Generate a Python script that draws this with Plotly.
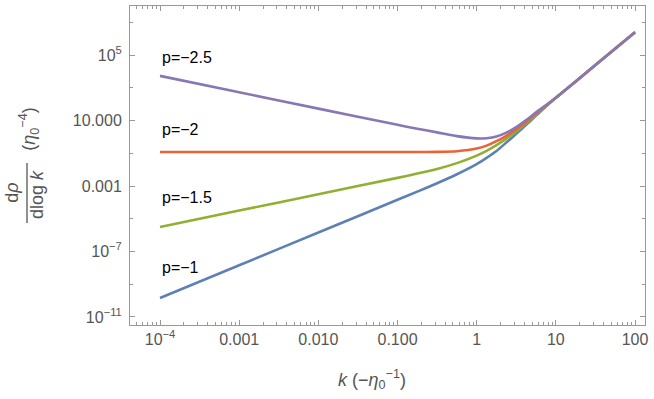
import plotly.graph_objects as go

logk = [-4, -3, -2, -1, -0.75, -0.5, -0.25, 0, 0.125, 0.25, 0.375, 0.5, 0.625, 0.75, 0.875, 1, 1.5, 2]

# log10 of d rho / d log k, one list per p
logrho_p1 = [-9.84, -7.84, -5.84, -3.84, -3.34, -2.83, -2.28, -1.66, -1.28, -0.86, -0.34, 0.19, 0.74, 1.30, 1.86, 2.39, 4.39, 6.39]
logrho_p15 = [-5.5, -4.5, -3.5, -2.5, -2.24, -1.96, -1.60, -1.14, -0.85, -0.50, -0.10, 0.34, 0.83, 1.36, 1.89, 2.39, 4.39, 6.39]
logrho_p2 = [-0.92, -0.92, -0.92, -0.92, -0.92, -0.91, -0.87, -0.71, -0.53, -0.26, 0.07, 0.46, 0.92, 1.42, 1.92, 2.39, 4.39, 6.39]
logrho_p25 = [3.73, 2.73, 1.73, 0.74, 0.50, 0.28, 0.05, -0.09, -0.08, 0.02, 0.26, 0.60, 1.03, 1.50, 1.94, 2.39, 4.39, 6.39]

labels = ["p=\u22121", "p=\u22121.5", "p=\u22122", "p=\u22122.5"]
label_y = [-7.96, -3.68, 0.48, 4.88]   # log10 positions of the labels
colors = ["#5E81B5", "#8FB032", "#EB6235", "#8778B3"]

xtick_vals = [1e-4, 1e-3, 1e-2, 0.1, 1, 10, 100]
xtick_text = ["10<sup>\u22124</sup>", "0.001", "0.010", "0.100", "1", "10", "100"]
ytick_vals = [1e-11, 1e-7, 1e-3, 10, 1e5]
ytick_text = ["10<sup>\u221211</sup>", "10<sup>\u22127</sup>", "0.001", "10.000", "10<sup>5</sup>"]

k = [10 ** v for v in logk]

fig = go.Figure()
for ys, c in zip([logrho_p1, logrho_p15, logrho_p2, logrho_p25], colors):
    fig.add_trace(go.Scatter(x=k, y=[10 ** v for v in ys], mode="lines",
                             line=dict(color=c, width=2.6, shape="spline", smoothing=0.6)))

# x minor ticks at 2..9 per decade
xminor = [m * 10.0 ** e for e in range(-5, 3) for m in range(2, 10)]
xminor = [v for v in xminor if 4e-5 < v < 140]
yminor = [10.0 ** e for e in [7, 3, -1, -5, -9]]

axis_common = dict(showline=True, linecolor="#999999", linewidth=1, mirror="allticks",
                   ticks="inside", tickcolor="#999999", ticklen=5, showgrid=False,
                   zeroline=False, automargin=False,
                   tickfont=dict(family="Liberation Sans, Arial", size=16, color="#555555"))

fig.update_xaxes(type="log", range=[-4.379, 2.126], tickvals=xtick_vals, ticktext=xtick_text,
                 minor=dict(tickvals=xminor, ticks="inside", ticklen=3, tickcolor="#999999"),
                 **axis_common)
fig.update_yaxes(type="log", range=[-11.49, 8.0], tickvals=ytick_vals, ticktext=ytick_text,
                 minor=dict(tickvals=yminor, ticks="inside", ticklen=3, tickcolor="#999999"),
                 ticklabelstandoff=4, **axis_common)

for t, yy in zip(labels, label_y):
    fig.add_annotation(x=-4.0, y=yy, xref="x", yref="y", text=t, showarrow=False,
                       xanchor="left", yanchor="middle",
                       font=dict(family="Liberation Sans, Arial", size=16, color="black"))

title_font = dict(family="Liberation Sans, Arial", size=18, color="#555555")
# x title
fig.add_annotation(x=0.47, y=-0.172, xref="paper", yref="paper", showarrow=False,
                   xanchor="center", yanchor="middle",
                   text="<i>k</i> (\u2212<i>\u03b7</i><sub>0</sub><sup>\u22121</sup>)", font=title_font)
# y title as a rotated fraction
ytitle_parts = [("d<i>\u03c1</i>", -0.229, 0.415),
                ("dlog <i>k</i>", -0.181, 0.41),
                ("(<i>\u03b7</i><sub>0</sub><sup>\u22124</sup>)", -0.197, 0.614)]
for t, px, py in ytitle_parts:
    fig.add_annotation(x=px, y=py, xref="paper", yref="paper", showarrow=False, textangle=-90,
                       xanchor="center", yanchor="middle", text=t, font=title_font)
fig.add_shape(type="line", xref="paper", yref="paper", x0=-0.2, x1=-0.2, y0=0.32, y1=0.508,
              line=dict(color="#555555", width=1.3))

fig.update_layout(width=654, height=399, showlegend=False,
                  margin=dict(l=130, r=9, t=6, b=74),
                  paper_bgcolor="white", plot_bgcolor="white")

# drop the default page margin so the figure sits at the window corner
fig.write_html("out.html", config={"displayModeBar": False},
               post_script="document.body.style.margin='0';")
